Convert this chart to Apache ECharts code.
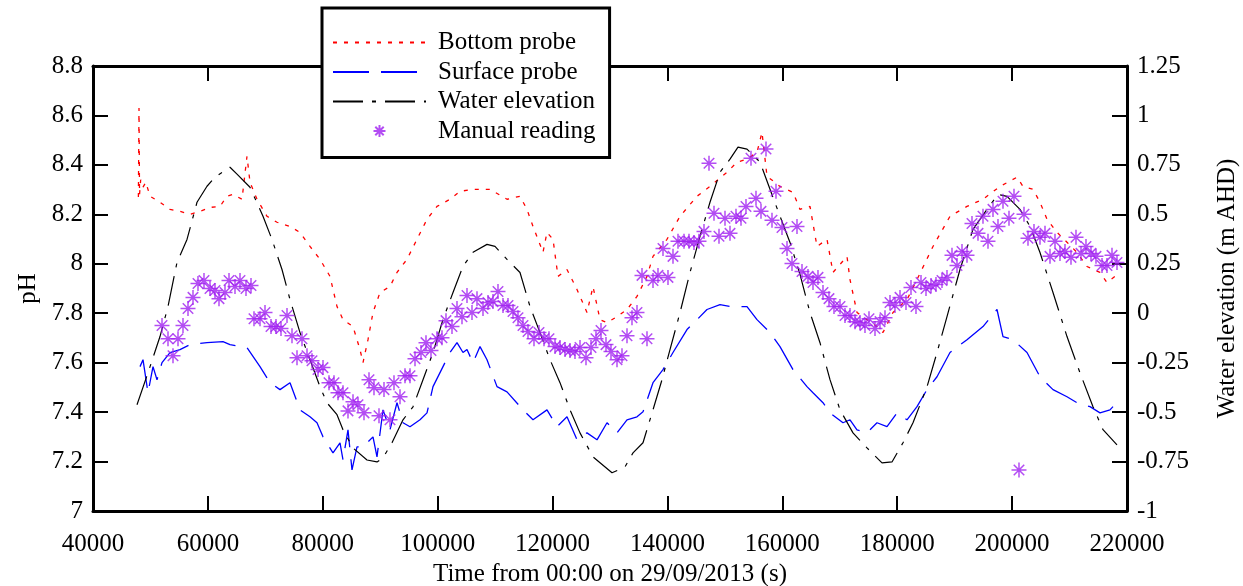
<!DOCTYPE html>
<html><head><meta charset="utf-8">
<script src="https://cdn.jsdelivr.net/npm/echarts@6/dist/echarts.min.js"></script>
<style>html,body{margin:0;padding:0;background:#fff}#c{width:1243px;height:586px}</style>
</head><body><div id="c"></div>
<script>
// ---- data (time in s, pH / elevation in m AHD) ----
const bottomProbe = [
[47900,8.27],[48008,8.63],[48100,8.28],[48300,8.34],[48704,8.31],[49200,8.33],[49923,8.273],[51663,8.249],[53404,8.22],[55145,8.212],[56886,8.2],[58627,8.212],[60367,8.228],[62108,8.232],[63327,8.273],[64371,8.281],[65938,8.261],[66808,8.435],[67330,8.33],[68549,8.261],[70290,8.192],[72031,8.168],[74294,8.151],[76035,8.127],[77776,8.07],[79516,8.018],[81257,7.949],[82476,7.827],[83520,7.774],[85261,7.746],[86479,7.653],[87002,7.6],[87872,7.693],[88742,7.803],[89961,7.884],[91702,7.908],[92920,7.965],[94661,8.018],[96402,8.099],[98143,8.18],[99883,8.232],[102146,8.261],[103887,8.293],[106150,8.301],[109110,8.301],[112069,8.261],[114332,8.273],[115551,8.22],[116595,8.151],[118336,8.046],[119032,8.127],[120077,8.099],[120947,7.949],[122513,7.977],[124254,7.896],[125995,7.803],[127040,7.908],[128258,7.774],[129477,7.762],[131218,7.786],[132959,7.815],[134699,7.868],[136440,7.949],[137485,8.03],[139922,8.099],[142185,8.192],[145144,8.273],[147407,8.313],[150366,8.37],[152107,8.411],[153848,8.423],[155589,8.451],[156459,8.532],[157330,8.354],[159593,8.313],[161856,8.289],[163075,8.22],[164816,8.232],[166034,8.07],[167775,8.099],[168819,7.965],[171256,8.03],[171779,7.936],[172997,7.803],[174738,7.774],[176479,7.746],[177523,7.722],[179264,7.803],[181701,7.855],[183442,7.936],[186227,8.07],[189187,8.192],[192146,8.232],[194931,8.261],[197890,8.313],[200850,8.35],[201894,8.313],[203635,8.301],[204854,8.249],[206072,8.18],[207813,8.127],[209554,8.087],[211295,8.046],[213036,7.989],[215299,7.965],[216518,7.924],[217910,7.949],[218259,7.929]
];
const surfaceProbe = [
[48182,7.584],[48704,7.612],[49575,7.478],[50445,7.584],[51141,7.531],[52012,7.6],[53404,7.641],[55145,7.653],[56886,7.673],[59846,7.681],[62631,7.685],[63849,7.673],[66808,7.661],[69071,7.584],[70812,7.519],[72553,7.491],[74294,7.519],[76035,7.409],[77776,7.381],[78994,7.357],[80038,7.3],[81779,7.235],[82998,7.276],[83520,7.207],[84390,7.328],[85086,7.166],[85957,7.259],[87002,7.259],[88742,7.3],[89439,7.219],[90483,7.409],[91702,7.328],[92920,7.438],[93965,7.357],[95183,7.341],[96924,7.369],[98143,7.397],[99187,7.503],[100928,7.584],[102146,7.641],[103365,7.681],[104410,7.641],[105106,7.653],[106150,7.6],[107369,7.665],[108588,7.612],[110329,7.503],[112069,7.482],[114854,7.409],[116595,7.369],[119032,7.409],[120773,7.341],[122514,7.381],[124254,7.288],[125995,7.316],[127736,7.288],[129477,7.357],[131218,7.316],[132959,7.369],[134700,7.381],[135744,7.401],[137485,7.519],[139226,7.572],[140966,7.641],[143404,7.734],[145144,7.774],[146885,7.815],[149148,7.835],[150889,7.827],[153849,7.827],[155589,7.774],[157852,7.722],[159593,7.665],[161856,7.572],[164293,7.503],[165338,7.478],[167078,7.438],[168297,7.397],[170560,7.357],[171779,7.369],[172997,7.328],[174738,7.316],[176479,7.357],[178219,7.341],[179960,7.397],[181701,7.369],[183442,7.422],[185183,7.491],[186924,7.543],[189187,7.641],[192146,7.693],[194931,7.746],[197368,7.815],[198413,7.705],[200154,7.693],[202591,7.641],[204854,7.543],[207117,7.491],[209554,7.462],[211295,7.438],[213558,7.422],[215299,7.397],[217040,7.409],[217562,7.422]
];
const waterElevation = [
[47660,-0.463],[49575,-0.301],[51663,-0.118],[53056,0.034],[54623,0.257],[56364,0.373],[58105,0.561],[59846,0.642],[61238,0.688],[63849,0.738],[65068,0.703],[67330,0.637],[69593,0.49],[71160,0.373],[72900,0.221],[74294,0.069],[76035,-0.098],[77776,-0.235],[79516,-0.372],[80735,-0.453],[82476,-0.513],[83520,-0.589],[85261,-0.681],[87698,-0.742],[89439,-0.752],[90483,-0.731],[92050,-0.655],[93965,-0.539],[95706,-0.473],[97446,-0.336],[99187,-0.199],[100928,-0.032],[102669,0.105],[104410,0.237],[106150,0.308],[108587,0.348],[109980,0.338],[112069,0.272],[114332,0.206],[116073,0.034],[117814,-0.098],[119554,-0.235],[121295,-0.351],[123036,-0.488],[124777,-0.605],[127040,-0.726],[130348,-0.807],[132611,-0.777],[134003,-0.706],[135744,-0.655],[137485,-0.488],[139052,-0.336],[140444,-0.184],[142185,0.003],[143926,0.206],[145666,0.389],[147407,0.561],[149148,0.713],[150889,0.779],[152282,0.84],[153849,0.83],[156112,0.764],[157853,0.627],[159594,0.49],[161334,0.358],[163075,0.196],[164816,0.003],[166557,-0.149],[168297,-0.336],[170038,-0.488],[172301,-0.605],[174738,-0.681],[177349,-0.757],[179090,-0.752],[181005,-0.655],[182746,-0.554],[185183,-0.372],[186924,-0.199],[188665,-0.017],[190928,0.221],[193190,0.424],[195628,0.525],[197543,0.601],[199110,0.591],[201373,0.525],[203113,0.439],[204854,0.307],[207117,0.105],[209554,-0.118],[211817,-0.301],[214080,-0.473],[215821,-0.589],[218258,-0.666]
];
const manualReading = [
[52012,7.75],[53056,7.697],[53926,7.628],[54797,7.697],[55667,7.75],[56538,7.819],[57408,7.864],[58278,7.92],[59323,7.932],[60367,7.9],[61238,7.892],[61934,7.859],[62979,7.884],[63675,7.932],[64719,7.908],[65590,7.932],[66634,7.9],[67505,7.912],[68027,7.778],[69071,7.778],[69942,7.803],[70986,7.746],[71857,7.746],[72727,7.738],[73772,7.791],[74642,7.709],[75512,7.62],[76383,7.697],[77253,7.628],[78124,7.608],[79168,7.572],[80038,7.58],[81083,7.519],[81953,7.519],[82650,7.478],[83520,7.478],[84390,7.405],[85261,7.442],[86131,7.43],[87176,7.397],[88046,7.531],[88916,7.499],[89787,7.385],[90657,7.491],[91702,7.369],[92398,7.519],[93443,7.462],[94313,7.547],[95183,7.547],[96054,7.616],[97098,7.641],[97969,7.681],[98839,7.649],[99884,7.697],[100754,7.701],[101450,7.77],[102495,7.746],[103365,7.819],[104236,7.786],[105106,7.872],[105976,7.803],[106847,7.859],[107891,7.819],[108762,7.843],[109632,7.847],[110502,7.888],[111373,7.831],[112243,7.831],[113114,7.807],[113984,7.782],[114854,7.75],[115725,7.726],[116769,7.697],[117640,7.722],[118510,7.697],[119380,7.697],[120425,7.665],[121295,7.661],[122166,7.653],[123036,7.649],[123907,7.645],[124777,7.661],[125821,7.62],[126692,7.661],[127562,7.697],[128433,7.73],[129303,7.673],[130173,7.645],[131218,7.612],[132088,7.628],[132959,7.709],[133829,7.782],[134700,7.803],[135570,7.953],[136440,7.697],[137485,7.932],[138355,7.953],[139226,8.062],[140096,7.945],[140966,8.03],[141837,8.091],[142881,8.091],[143752,8.091],[144622,8.086],[145492,8.091],[146363,8.131],[147233,8.407],[148104,8.204],[148974,8.111],[150019,8.184],[150889,8.123],[151933,8.192],[152804,8.184],[153674,8.232],[154545,8.427],[155415,8.265],[156285,8.212],[157156,8.464],[158200,8.176],[158897,8.293],[159941,8.147],[160812,8.062],[161682,8.001],[162552,8.151],[163423,7.969],[164467,7.949],[165338,7.924],[166208,7.945],[167078,7.884],[168123,7.859],[168993,7.827],[170038,7.827],[170908,7.791],[171779,7.791],[172649,7.766],[173519,7.762],[174390,7.75],[175086,7.778],[176131,7.738],[177001,7.766],[177871,7.782],[178742,7.843],[179612,7.831],[180483,7.864],[181527,7.843],[182397,7.904],[183268,7.827],[184138,7.924],[185009,7.9],[185879,7.912],[186749,7.916],[187794,7.932],[188664,7.945],[189535,8.034],[190405,7.993],[191276,8.05],[192146,8.034],[193016,8.163],[194061,8.123],[194931,8.192],[195802,8.091],[196672,8.22],[197542,8.151],[198413,8.253],[199457,8.184],[200328,8.273],[201198,7.166],[202068,8.2],[202765,8.103],[203809,8.131],[204854,8.107],[205724,8.123],[206595,8.03],[207465,8.091],[208335,8.042],[209206,8.05],[210250,8.026],[211121,8.107],[211991,8.042],[212861,8.07],[213732,8.042],[214602,8.03],[215647,7.993],[216517,7.993],[217388,8.034],[218258,8.005]
];
const seriesNames = ['Bottom probe','Surface probe','Water elevation','Manual reading'];
const xRange = [40000, 220000, 20000];
const phRange = [7, 8.8, 0.2];
const elevRange = [-1, 1.25, 0.25];
const xTitle = 'Time from 00:00 on 29/09/2013 (s)';
const yTitle = 'pH';
const y2Title = 'Water elevation (m AHD)';

const FONT = 'Liberation Serif';
const txt = {fontFamily: FONT, fontSize: 25, color: '#000'};
const frame = {show: true, onZero: false, lineStyle: {color: '#000', width: 3}};
const tick = {show: true, inside: true, length: 15, lineStyle: {color: '#000', width: 2}};
const asterisk = 'path://M10 0 L10 20 M0 10 L20 10 M3 3 L17 17 M3 17 L17 3';

const chart = echarts.init(document.getElementById('c'), null, {renderer: 'canvas'});
chart.setOption({
  animation: false,
  backgroundColor: '#fff',
  grid: {left: 93, right: 116, top: 66, bottom: 75, containLabel: false, outerBoundsMode: 'none'},
  legend: {
    left: 322, top: 8, orient: 'vertical',
    padding: [22, 14, 14, 10],
    itemWidth: 93, itemHeight: 12, itemGap: 4.5,
    borderColor: '#000', borderWidth: 3, backgroundColor: '#fff',
    textStyle: {fontFamily: FONT, fontSize: 25, color: '#000', lineHeight: 25, padding: [0, 0, 0, 7]},
    data: [
      {name: seriesNames[0], itemStyle: {opacity: 0}},
      {name: seriesNames[1], itemStyle: {opacity: 0}},
      {name: seriesNames[2], itemStyle: {opacity: 0}},
      {name: seriesNames[3]}
    ],
    selectedMode: false
  },
  xAxis: [
    {type: 'value', min: xRange[0], max: xRange[1], interval: xRange[2], position: 'bottom',
     name: xTitle, nameLocation: 'middle', nameGap: 49, nameTextStyle: txt,
     axisLine: frame, axisTick: tick, splitLine: {show: false},
     axisLabel: Object.assign({margin: 21, formatter: v => String(v)}, txt)},
    {type: 'value', min: xRange[0], max: xRange[1], interval: xRange[2], position: 'top',
     axisLine: frame, axisTick: tick, splitLine: {show: false}, axisLabel: {show: false}}
  ],
  yAxis: [
    {type: 'value', min: phRange[0], max: phRange[1], interval: phRange[2], position: 'left',
     name: yTitle, nameLocation: 'middle', nameGap: 40, nameTextStyle: txt,
     axisLine: frame, axisTick: tick, splitLine: {show: false},
     axisLabel: Object.assign({margin: 10}, txt)},
    {type: 'value', min: elevRange[0], max: elevRange[1], interval: elevRange[2], position: 'right',
     name: y2Title, nameLocation: 'middle', nameGap: 88, nameTextStyle: txt,
     axisLine: frame, axisTick: tick, splitLine: {show: false},
     axisLabel: Object.assign({margin: 10}, txt)}
  ],
  series: [
    {name: seriesNames[0], type: 'line', data: bottomProbe, xAxisIndex: 0, yAxisIndex: 0,
     symbol: 'none', color: '#ff0000', lineStyle: {color: '#ff0000', width: 1.3, type: [4, 7]}},
    {name: seriesNames[1], type: 'line', data: surfaceProbe, xAxisIndex: 0, yAxisIndex: 0,
     symbol: 'none', color: '#0000ff', lineStyle: {color: '#0000ff', width: 1.3, type: [36, 12]}},
    {name: seriesNames[2], type: 'line', data: waterElevation, xAxisIndex: 0, yAxisIndex: 1,
     symbol: 'none', color: '#000', lineStyle: {color: '#000', width: 1.2, type: [30, 9, 4, 9]}},
    {name: seriesNames[3], type: 'scatter', data: manualReading, xAxisIndex: 0, yAxisIndex: 0,
     symbol: asterisk, symbolSize: 15, z: 5,
     itemStyle: {color: 'rgba(0,0,0,0)', borderColor: '#a020f0', borderWidth: 1.5}}
  ]
});
</script></body></html>
